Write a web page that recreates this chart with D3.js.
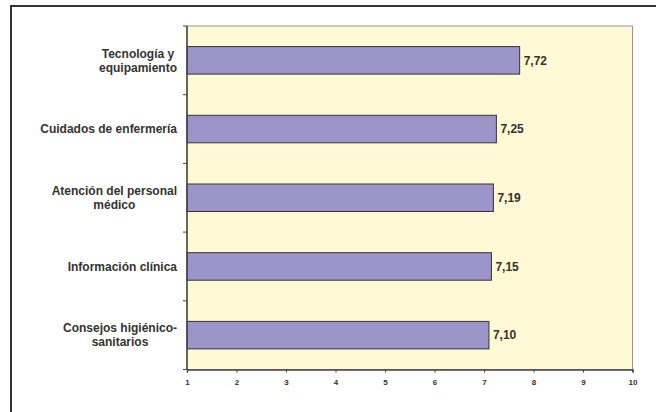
<!DOCTYPE html>
<html>
<head>
<meta charset="utf-8">
<script src="https://cdn.jsdelivr.net/npm/d3@7"></script>
<style>
  body { margin: 0; background: #fff; }
  svg { display: block; font-family: "Liberation Sans", Arial, sans-serif; }
</style>
</head>
<body>
<svg id="chart" width="656" height="412"></svg>
<script>
// categories (top to bottom), each as label lines
const categories = [
    ["Tecnología y", "equipamiento"],
    ["Cuidados de enfermería"],
    ["Atención del personal", "médico"],
    ["Información clínica"],
    ["Consejos higiénico-", "sanitarios"]
];
const values = [7.72, 7.25, 7.19, 7.15, 7.10];
const xTicks = [1, 2, 3, 4, 5, 6, 7, 8, 9, 10];

const svg = d3.select("#chart");
const margin = { top: 26, right: 23.5, bottom: 42.5, left: 187 };
const width = 656, height = 412;
const innerWidth = width - margin.left - margin.right;
const innerHeight = height - margin.top - margin.bottom;

// outer frame (top and left edges visible)
svg.append("path")
    .attr("d", "M11,420 L11,6 L660,6")
    .attr("fill", "none")
    .attr("stroke", "#333")
    .attr("stroke-width", 2);

const g = svg.append("g")
    .attr("transform", "translate(" + margin.left + "," + margin.top + ")");

const xScale = d3.scaleLinear().domain([1, 10]).range([0, innerWidth]);
const yScale = d3.scaleBand()
    .domain(d3.range(categories.length))
    .range([0, innerHeight])
    .paddingInner(0.6)
    .paddingOuter(0.3);

// plot background
g.append("rect")
    .attr("x", 0).attr("y", 0)
    .attr("width", innerWidth).attr("height", innerHeight)
    .attr("fill", "#fff9d6")
    .attr("stroke", "#a09488")
    .attr("stroke-width", 1);

// bars
g.selectAll(".bar")
    .data(values)
    .enter()
    .append("rect")
    .attr("class", "bar")
    .attr("x", xScale(1))
    .attr("y", (d, i) => yScale(i))
    .attr("width", d => xScale(d) - xScale(1))
    .attr("height", yScale.bandwidth())
    .attr("fill", "#9b95c9")
    .attr("stroke", "#333")
    .attr("stroke-width", 1);

// value labels
g.selectAll(".val")
    .data(values)
    .enter()
    .append("text")
    .attr("class", "val")
    .attr("x", d => xScale(d) + 4)
    .attr("y", (d, i) => yScale(i) + yScale.bandwidth() / 2)
    .attr("dy", "0.35em")
    .attr("font-size", 12)
    .attr("font-weight", "bold")
    .attr("fill", "#333")
    .text(d => d.toFixed(2).replace(".", ","));

// x axis
const xAxis = d3.axisBottom(xScale).tickValues(xTicks).tickSize(3).tickPadding(7);
const gx = g.append("g")
    .attr("transform", "translate(0," + innerHeight + ")")
    .call(xAxis);
gx.select(".domain").attr("stroke", "#444").attr("stroke-width", 1.5);
gx.selectAll(".tick line").attr("stroke", "#444");
gx.selectAll("text")
    .attr("font-size", 8)
    .attr("font-weight", "bold")
    .attr("fill", "#333")
    .attr("font-family", "'Liberation Sans', Arial, sans-serif");

// y axis line and ticks at category boundaries
const bounds = d3.range(categories.length + 1).map(i => i * innerHeight / categories.length);
g.append("line")
    .attr("x1", 0).attr("x2", 0)
    .attr("y1", 0).attr("y2", innerHeight)
    .attr("stroke", "#444").attr("stroke-width", 1.5);
g.selectAll(".ytick")
    .data(bounds)
    .enter()
    .append("line")
    .attr("x1", -4).attr("x2", 0)
    .attr("y1", d => d).attr("y2", d => d)
    .attr("stroke", "#444");

// category labels: block right-aligned, lines centered within block
const labels = g.selectAll(".cat")
    .data(categories)
    .enter()
    .append("text")
    .attr("class", "cat")
    .attr("text-anchor", "middle")
    .attr("font-size", 12)
    .attr("font-weight", "bold")
    .attr("fill", "#333");
labels.each(function (lines, i) {
    const t = d3.select(this);
    const lh = 14;
    const y0 = -(lines.length - 1) * lh / 2;
    lines.forEach((l, k) => {
        t.append("tspan")
            .attr("x", 0)
            .attr("y", y0 + k * lh)
            .attr("dy", "0.35em")
            .text(l);
    });
    let maxW = 0;
    t.selectAll("tspan").each(function () {
        maxW = Math.max(maxW, this.getComputedTextLength());
    });
    const cx = -10 - maxW / 2;
    t.attr("transform", "translate(" + cx + "," + (yScale(i) + yScale.bandwidth() / 2) + ")");
});
</script>
</body>
</html>
